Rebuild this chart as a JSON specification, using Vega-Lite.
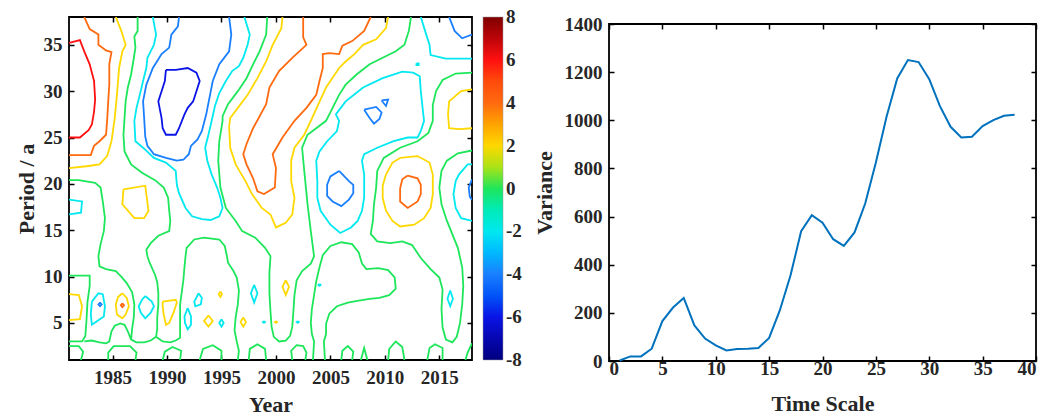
{
"$schema":"https://vega.github.io/schema/vega-lite/v6.json",
"background":"white",
"padding":{"left":14,"top":14,"right":5,"bottom":0},
"spacing":9,
"resolve":{"scale":{"color":"independent"},"legend":{"color":"independent"}},
"config":{
 "font":"Liberation Serif",
 "view":{"stroke":"#000","strokeWidth":1.8},
 "axis":{"domain":false,"grid":false,"ticks":true,"tickSize":-5,"tickColor":"#000","tickWidth":1.5,
  "labelFont":"Liberation Serif","labelFontSize":19,"labelFontWeight":"bold","labelColor":"#262626",
  "titleFont":"Liberation Serif","titleFontSize":22,"titleFontWeight":"bold","titleColor":"#262626"},
 "legend":{"labelFont":"Liberation Serif","labelFontSize":19,"labelFontWeight":"bold","labelColor":"#262626"}
},
"datasets":{
"contours":[
{"c":1,"l":6,"x":1981.0,"y":35.2},{"c":1,"l":6,"x":1982.0,"y":35.5},{"c":1,"l":6,"x":1982.4,"y":34.3},{"c":1,"l":6,"x":1982.9,"y":32.9},{"c":1,"l":6,"x":1983.3,"y":31.1},{"c":1,"l":6,"x":1983.4,"y":29.1},{"c":1,"l":6,"x":1983.3,"y":27.8},{"c":1,"l":6,"x":1983.1,"y":26.4},{"c":1,"l":6,"x":1982.8,"y":25.8},{"c":1,"l":6,"x":1982.0,"y":25.0},{"c":1,"l":6,"x":1981.0,"y":25.0},
{"c":2,"l":4,"x":1982.4,"y":38},{"c":2,"l":4,"x":1982.9,"y":36.7},{"c":2,"l":4,"x":1983.7,"y":36.1},{"c":2,"l":4,"x":1983.7,"y":35.0},{"c":2,"l":4,"x":1984.4,"y":34.4},{"c":2,"l":4,"x":1984.9,"y":34.2},{"c":2,"l":4,"x":1984.7,"y":32.9},{"c":2,"l":4,"x":1984.7,"y":30.7},{"c":2,"l":4,"x":1984.6,"y":28.9},{"c":2,"l":4,"x":1984.5,"y":26.8},{"c":2,"l":4,"x":1984.4,"y":25.3},{"c":2,"l":4,"x":1983.8,"y":24.6},{"c":2,"l":4,"x":1983.3,"y":24.1},{"c":2,"l":4,"x":1983.0,"y":23.1},{"c":2,"l":4,"x":1981.0,"y":23.1},
{"c":3,"l":2,"x":1985.3,"y":38},{"c":3,"l":2,"x":1985.8,"y":36.5},{"c":3,"l":2,"x":1986.2,"y":35.0},{"c":3,"l":2,"x":1985.9,"y":34.3},{"c":3,"l":2,"x":1985.6,"y":32.5},{"c":3,"l":2,"x":1985.4,"y":29.6},{"c":3,"l":2,"x":1985.2,"y":27.1},{"c":3,"l":2,"x":1984.9,"y":24.6},{"c":3,"l":2,"x":1984.5,"y":23.0},{"c":3,"l":2,"x":1983.8,"y":22.1},{"c":3,"l":2,"x":1982.6,"y":21.9},{"c":3,"l":2,"x":1981.0,"y":21.7},
{"c":4,"l":0,"x":1987.3,"y":38},{"c":4,"l":0,"x":1987.3,"y":36.5},{"c":4,"l":0,"x":1987.0,"y":35.9},{"c":4,"l":0,"x":1987.1,"y":34.7},{"c":4,"l":0,"x":1986.9,"y":33.2},{"c":4,"l":0,"x":1986.7,"y":31.8},{"c":4,"l":0,"x":1986.4,"y":30.4},{"c":4,"l":0,"x":1986.2,"y":28.9},{"c":4,"l":0,"x":1986.1,"y":27.1},{"c":4,"l":0,"x":1986.0,"y":25.3},{"c":4,"l":0,"x":1986.1,"y":23.5},{"c":4,"l":0,"x":1986.7,"y":22.1},{"c":4,"l":0,"x":1987.7,"y":21.2},{"c":4,"l":0,"x":1988.9,"y":20.4},{"c":4,"l":0,"x":1989.7,"y":19.6},{"c":4,"l":0,"x":1990.1,"y":18.5},{"c":4,"l":0,"x":1990.2,"y":17.1},{"c":4,"l":0,"x":1990.3,"y":16.0},{"c":4,"l":0,"x":1990.2,"y":14.9},{"c":4,"l":0,"x":1989.2,"y":14.4},{"c":4,"l":0,"x":1988.5,"y":13.6},{"c":4,"l":0,"x":1988.1,"y":12.9},{"c":4,"l":0,"x":1988.2,"y":12.2},{"c":4,"l":0,"x":1988.4,"y":11.5},{"c":4,"l":0,"x":1988.9,"y":10.2},{"c":4,"l":0,"x":1989.1,"y":9.4},{"c":4,"l":0,"x":1989.2,"y":8.3},{"c":4,"l":0,"x":1989.2,"y":7.0},{"c":4,"l":0,"x":1989.1,"y":5.6},{"c":4,"l":0,"x":1989.1,"y":4.4},{"c":4,"l":0,"x":1989.0,"y":3.5},{"c":4,"l":0,"x":1989.6,"y":3.0},{"c":4,"l":0,"x":1990.3,"y":2.9},{"c":4,"l":0,"x":1990.8,"y":3.1},{"c":4,"l":0,"x":1991.2,"y":3.4},{"c":4,"l":0,"x":1991.2,"y":4.6},{"c":4,"l":0,"x":1991.2,"y":5.8},{"c":4,"l":0,"x":1991.2,"y":7.0},{"c":4,"l":0,"x":1991.35,"y":8.3},{"c":4,"l":0,"x":1991.5,"y":9.6},{"c":4,"l":0,"x":1991.6,"y":11.0},{"c":4,"l":0,"x":1991.7,"y":12.2},{"c":4,"l":0,"x":1991.8,"y":13.1},{"c":4,"l":0,"x":1992.5,"y":14.0},{"c":4,"l":0,"x":1993.4,"y":14.2},{"c":4,"l":0,"x":1994.8,"y":14.0},{"c":4,"l":0,"x":1995.3,"y":13.3},{"c":4,"l":0,"x":1995.5,"y":12.2},{"c":4,"l":0,"x":1995.6,"y":11.5},{"c":4,"l":0,"x":1996.1,"y":10.6},{"c":4,"l":0,"x":1996.4,"y":9.9},{"c":4,"l":0,"x":1996.6,"y":8.5},{"c":4,"l":0,"x":1996.5,"y":7.0},{"c":4,"l":0,"x":1996.3,"y":5.6},{"c":4,"l":0,"x":1996.2,"y":4.2},{"c":4,"l":0,"x":1996.4,"y":3.0},{"c":4,"l":0,"x":1996.6,"y":2.0},{"c":4,"l":0,"x":1996.5,"y":1.0},
{"c":5,"l":-4,"x":1991.1,"y":38},{"c":5,"l":-4,"x":1991.0,"y":37.0},{"c":5,"l":-4,"x":1990.4,"y":36.1},{"c":5,"l":-4,"x":1990.2,"y":34.7},{"c":5,"l":-4,"x":1989.5,"y":34.0},{"c":5,"l":-4,"x":1988.7,"y":32.5},{"c":5,"l":-4,"x":1988.1,"y":30.7},{"c":5,"l":-4,"x":1987.8,"y":28.9},{"c":5,"l":-4,"x":1987.9,"y":27.1},{"c":5,"l":-4,"x":1988.0,"y":25.1},{"c":5,"l":-4,"x":1988.2,"y":24.1},{"c":5,"l":-4,"x":1988.8,"y":23.2},{"c":5,"l":-4,"x":1989.9,"y":22.8},{"c":5,"l":-4,"x":1990.9,"y":22.5},{"c":5,"l":-4,"x":1991.5,"y":22.6},{"c":5,"l":-4,"x":1992.0,"y":23.2},{"c":5,"l":-4,"x":1992.2,"y":24.1},{"c":5,"l":-4,"x":1992.8,"y":24.8},{"c":5,"l":-4,"x":1993.2,"y":25.7},{"c":5,"l":-4,"x":1993.6,"y":27.5},{"c":5,"l":-4,"x":1993.9,"y":29.3},{"c":5,"l":-4,"x":1994.2,"y":31.1},{"c":5,"l":-4,"x":1994.8,"y":32.9},{"c":5,"l":-4,"x":1995.7,"y":34.3},{"c":5,"l":-4,"x":1995.9,"y":36.1},{"c":5,"l":-4,"x":1995.7,"y":38},
{"c":6,"l":-6,"x":1989.9,"y":32.3},{"c":6,"l":-6,"x":1990.8,"y":32.3},{"c":6,"l":-6,"x":1991.9,"y":32.5},{"c":6,"l":-6,"x":1992.7,"y":32.0},{"c":6,"l":-6,"x":1993.0,"y":31.1},{"c":6,"l":-6,"x":1992.7,"y":30.0},{"c":6,"l":-6,"x":1992.4,"y":28.9},{"c":6,"l":-6,"x":1991.9,"y":28.2},{"c":6,"l":-6,"x":1991.6,"y":27.5},{"c":6,"l":-6,"x":1991.1,"y":26.0},{"c":6,"l":-6,"x":1990.8,"y":25.3},{"c":6,"l":-6,"x":1989.9,"y":25.3},{"c":6,"l":-6,"x":1989.6,"y":26.0},{"c":6,"l":-6,"x":1989.5,"y":27.1},{"c":6,"l":-6,"x":1989.2,"y":28.9},{"c":6,"l":-6,"x":1989.5,"y":30.0},{"c":6,"l":-6,"x":1989.8,"y":31.1},{"c":6,"l":-6,"x":1989.9,"y":32.3},
{"c":7,"l":-2,"x":1988.7,"y":38},{"c":7,"l":-2,"x":1988.9,"y":36.7},{"c":7,"l":-2,"x":1989.0,"y":36.1},{"c":7,"l":-2,"x":1988.8,"y":35.0},{"c":7,"l":-2,"x":1988.2,"y":33.6},{"c":7,"l":-2,"x":1988.1,"y":32.5},{"c":7,"l":-2,"x":1987.8,"y":31.1},{"c":7,"l":-2,"x":1987.5,"y":29.6},{"c":7,"l":-2,"x":1987.2,"y":28.2},{"c":7,"l":-2,"x":1987.0,"y":26.8},{"c":7,"l":-2,"x":1987.1,"y":24.6},{"c":7,"l":-2,"x":1988.0,"y":23.7},{"c":7,"l":-2,"x":1988.8,"y":22.8},{"c":7,"l":-2,"x":1989.9,"y":22.3},{"c":7,"l":-2,"x":1990.8,"y":21.4},{"c":7,"l":-2,"x":1990.9,"y":19.9},{"c":7,"l":-2,"x":1991.1,"y":19.0},{"c":7,"l":-2,"x":1991.7,"y":17.4},{"c":7,"l":-2,"x":1992.3,"y":16.5},{"c":7,"l":-2,"x":1993.2,"y":16.2},{"c":7,"l":-2,"x":1994.0,"y":16.1},{"c":7,"l":-2,"x":1994.8,"y":16.5},{"c":7,"l":-2,"x":1995.1,"y":17.4},{"c":7,"l":-2,"x":1994.9,"y":18.5},{"c":7,"l":-2,"x":1994.6,"y":19.6},{"c":7,"l":-2,"x":1994.1,"y":21.0},{"c":7,"l":-2,"x":1993.7,"y":22.5},{"c":7,"l":-2,"x":1993.5,"y":23.9},{"c":7,"l":-2,"x":1993.8,"y":25.3},{"c":7,"l":-2,"x":1994.1,"y":26.8},{"c":7,"l":-2,"x":1994.4,"y":28.4},{"c":7,"l":-2,"x":1994.8,"y":29.8},{"c":7,"l":-2,"x":1995.4,"y":31.1},{"c":7,"l":-2,"x":1996.0,"y":32.2},{"c":7,"l":-2,"x":1996.6,"y":32.7},{"c":7,"l":-2,"x":1997.0,"y":33.6},{"c":7,"l":-2,"x":1997.4,"y":35.0},{"c":7,"l":-2,"x":1997.6,"y":36.1},{"c":7,"l":-2,"x":1997.1,"y":38},
{"c":8,"l":0,"x":1999.2,"y":38},{"c":8,"l":0,"x":1999.1,"y":36.1},{"c":8,"l":0,"x":1998.5,"y":34.3},{"c":8,"l":0,"x":1997.9,"y":32.9},{"c":8,"l":0,"x":1997.3,"y":31.4},{"c":8,"l":0,"x":1996.5,"y":30.0},{"c":8,"l":0,"x":1995.6,"y":28.6},{"c":8,"l":0,"x":1995.1,"y":27.3},{"c":8,"l":0,"x":1995.1,"y":26.8},{"c":8,"l":0,"x":1994.8,"y":24.6},{"c":8,"l":0,"x":1994.7,"y":22.5},{"c":8,"l":0,"x":1994.9,"y":19.6},{"c":8,"l":0,"x":1995.4,"y":17.4},{"c":8,"l":0,"x":1996.3,"y":16.0},{"c":8,"l":0,"x":1996.9,"y":14.9},{"c":8,"l":0,"x":1998.1,"y":14.2},{"c":8,"l":0,"x":1999.0,"y":13.1},{"c":8,"l":0,"x":1999.5,"y":12.2},{"c":8,"l":0,"x":1999.4,"y":10.4},{"c":8,"l":0,"x":1999.4,"y":8.2},{"c":8,"l":0,"x":1999.5,"y":6.2},{"c":8,"l":0,"x":1999.6,"y":4.6},{"c":8,"l":0,"x":1999.8,"y":3.5},{"c":8,"l":0,"x":2000.3,"y":3.0},{"c":8,"l":0,"x":2000.9,"y":3.1},{"c":8,"l":0,"x":2001.3,"y":3.6},{"c":8,"l":0,"x":2001.5,"y":4.6},{"c":8,"l":0,"x":2001.6,"y":6.2},{"c":8,"l":0,"x":2001.7,"y":8.0},{"c":8,"l":0,"x":2001.9,"y":9.6},{"c":8,"l":0,"x":2002.4,"y":10.6},{"c":8,"l":0,"x":2003.2,"y":11.4},{"c":8,"l":0,"x":2003.5,"y":12.2},{"c":8,"l":0,"x":2003.2,"y":14.9},{"c":8,"l":0,"x":2002.9,"y":17.8},{"c":8,"l":0,"x":2002.6,"y":21.4},{"c":8,"l":0,"x":2002.4,"y":23.9},{"c":8,"l":0,"x":2002.9,"y":25.3},{"c":8,"l":0,"x":2004.6,"y":26.8},{"c":8,"l":0,"x":2005.2,"y":28.2},{"c":8,"l":0,"x":2005.8,"y":29.6},{"c":8,"l":0,"x":2006.4,"y":30.7},{"c":8,"l":0,"x":2007.4,"y":31.8},{"c":8,"l":0,"x":2008.6,"y":32.9},{"c":8,"l":0,"x":2009.8,"y":33.6},{"c":8,"l":0,"x":2011.0,"y":34.3},{"c":8,"l":0,"x":2011.8,"y":35.0},{"c":8,"l":0,"x":2012.2,"y":36.5},{"c":8,"l":0,"x":2012.4,"y":38},
{"c":9,"l":2,"x":2000.6,"y":38},{"c":9,"l":2,"x":2000.5,"y":36.8},{"c":9,"l":2,"x":1999.7,"y":35.0},{"c":9,"l":2,"x":1999.1,"y":33.2},{"c":9,"l":2,"x":1998.3,"y":31.4},{"c":9,"l":2,"x":1997.4,"y":29.6},{"c":9,"l":2,"x":1996.5,"y":28.2},{"c":9,"l":2,"x":1995.8,"y":27.1},{"c":9,"l":2,"x":1995.7,"y":26.2},{"c":9,"l":2,"x":1995.8,"y":23.9},{"c":9,"l":2,"x":1996.3,"y":22.1},{"c":9,"l":2,"x":1997.2,"y":20.3},{"c":9,"l":2,"x":1997.8,"y":18.9},{"c":9,"l":2,"x":1998.7,"y":17.4},{"c":9,"l":2,"x":1999.5,"y":16.7},{"c":9,"l":2,"x":2000.0,"y":15.3},{"c":9,"l":2,"x":2000.9,"y":15.8},{"c":9,"l":2,"x":2001.5,"y":16.7},{"c":9,"l":2,"x":2001.7,"y":18.5},{"c":9,"l":2,"x":2001.4,"y":20.3},{"c":9,"l":2,"x":2001.4,"y":22.5},{"c":9,"l":2,"x":2001.7,"y":23.9},{"c":9,"l":2,"x":2002.6,"y":25.3},{"c":9,"l":2,"x":2003.2,"y":26.8},{"c":9,"l":2,"x":2004.6,"y":30.4},{"c":9,"l":2,"x":2005.8,"y":32.5},{"c":9,"l":2,"x":2006.4,"y":33.2},{"c":9,"l":2,"x":2007.2,"y":34.0},{"c":9,"l":2,"x":2008.0,"y":35.0},{"c":9,"l":2,"x":2009.2,"y":35.6},{"c":9,"l":2,"x":2010.1,"y":36.8},{"c":9,"l":2,"x":2010.3,"y":38},
{"c":10,"l":4,"x":2002.5,"y":38},{"c":10,"l":4,"x":2002.5,"y":35.8},{"c":10,"l":4,"x":2002.8,"y":35.0},{"c":10,"l":4,"x":2001.5,"y":33.6},{"c":10,"l":4,"x":2000.3,"y":32.2},{"c":10,"l":4,"x":1999.4,"y":30.4},{"c":10,"l":4,"x":1999.1,"y":28.6},{"c":10,"l":4,"x":1997.9,"y":26.0},{"c":10,"l":4,"x":1997.3,"y":24.3},{"c":10,"l":4,"x":1997.0,"y":23.2},{"c":10,"l":4,"x":1997.3,"y":22.1},{"c":10,"l":4,"x":1997.9,"y":20.6},{"c":10,"l":4,"x":1998.3,"y":19.2},{"c":10,"l":4,"x":1998.9,"y":18.9},{"c":10,"l":4,"x":1999.9,"y":19.6},{"c":10,"l":4,"x":2000.0,"y":21.7},{"c":10,"l":4,"x":1999.7,"y":23.2},{"c":10,"l":4,"x":2000.6,"y":25.0},{"c":10,"l":4,"x":2001.7,"y":26.8},{"c":10,"l":4,"x":2002.8,"y":28.2},{"c":10,"l":4,"x":2003.7,"y":29.6},{"c":10,"l":4,"x":2004.0,"y":31.1},{"c":10,"l":4,"x":2004.3,"y":32.5},{"c":10,"l":4,"x":2004.3,"y":34.0},{"c":10,"l":4,"x":2004.9,"y":34.1},{"c":10,"l":4,"x":2005.8,"y":34.0},{"c":10,"l":4,"x":2006.1,"y":34.9},{"c":10,"l":4,"x":2007.0,"y":35.4},{"c":10,"l":4,"x":2008.1,"y":36.5},{"c":10,"l":4,"x":2008.7,"y":38},
{"c":12,"l":-2,"x":2012.6,"y":32.0},{"c":12,"l":-2,"x":2013.2,"y":31.6},{"c":12,"l":-2,"x":2013.3,"y":30.0},{"c":12,"l":-2,"x":2013.5,"y":27.8},{"c":12,"l":-2,"x":2013.6,"y":26.8},{"c":12,"l":-2,"x":2013.3,"y":25.7},{"c":12,"l":-2,"x":2013.0,"y":25.0},{"c":12,"l":-2,"x":2012.1,"y":25.0},{"c":12,"l":-2,"x":2010.8,"y":24.6},{"c":12,"l":-2,"x":2009.3,"y":23.9},{"c":12,"l":-2,"x":2008.1,"y":23.2},{"c":12,"l":-2,"x":2007.9,"y":22.5},{"c":12,"l":-2,"x":2008.1,"y":21.0},{"c":12,"l":-2,"x":2008.1,"y":19.9},{"c":12,"l":-2,"x":2008.1,"y":18.5},{"c":12,"l":-2,"x":2007.9,"y":17.1},{"c":12,"l":-2,"x":2007.5,"y":16.0},{"c":12,"l":-2,"x":2006.9,"y":15.3},{"c":12,"l":-2,"x":2005.9,"y":14.7},{"c":12,"l":-2,"x":2005.0,"y":15.6},{"c":12,"l":-2,"x":2004.1,"y":17.1},{"c":12,"l":-2,"x":2003.8,"y":18.5},{"c":12,"l":-2,"x":2003.8,"y":20.3},{"c":12,"l":-2,"x":2003.7,"y":22.5},{"c":12,"l":-2,"x":2004.0,"y":23.5},{"c":12,"l":-2,"x":2004.7,"y":24.6},{"c":12,"l":-2,"x":2005.6,"y":25.7},{"c":12,"l":-2,"x":2005.8,"y":26.8},{"c":12,"l":-2,"x":2005.5,"y":27.5},{"c":12,"l":-2,"x":2006.4,"y":28.9},{"c":12,"l":-2,"x":2008.0,"y":30.4},{"c":12,"l":-2,"x":2009.8,"y":31.4},{"c":12,"l":-2,"x":2011.6,"y":32.1},{"c":12,"l":-2,"x":2012.6,"y":32.0},
{"c":13,"l":-4,"x":2005.8,"y":21.4},{"c":13,"l":-4,"x":2006.7,"y":20.3},{"c":13,"l":-4,"x":2007.1,"y":19.9},{"c":13,"l":-4,"x":2007.1,"y":19.0},{"c":13,"l":-4,"x":2006.7,"y":18.3},{"c":13,"l":-4,"x":2006.0,"y":17.6},{"c":13,"l":-4,"x":2005.2,"y":18.1},{"c":13,"l":-4,"x":2004.7,"y":18.7},{"c":13,"l":-4,"x":2004.7,"y":19.9},{"c":13,"l":-4,"x":2005.0,"y":20.8},{"c":13,"l":-4,"x":2005.8,"y":21.4},
{"c":14,"l":2,"x":2011.4,"y":22.8},{"c":14,"l":2,"x":2013.0,"y":23.0},{"c":14,"l":2,"x":2014.1,"y":22.3},{"c":14,"l":2,"x":2014.4,"y":21.0},{"c":14,"l":2,"x":2014.4,"y":18.9},{"c":14,"l":2,"x":2014.2,"y":17.4},{"c":14,"l":2,"x":2013.6,"y":16.3},{"c":14,"l":2,"x":2012.7,"y":15.6},{"c":14,"l":2,"x":2011.4,"y":15.4},{"c":14,"l":2,"x":2010.7,"y":16.0},{"c":14,"l":2,"x":2010.1,"y":17.1},{"c":14,"l":2,"x":2009.8,"y":18.5},{"c":14,"l":2,"x":2009.8,"y":19.8},{"c":14,"l":2,"x":2010.1,"y":21.0},{"c":14,"l":2,"x":2010.7,"y":22.3},{"c":14,"l":2,"x":2011.4,"y":22.8},
{"c":15,"l":4,"x":2012.1,"y":20.9},{"c":15,"l":4,"x":2013.0,"y":20.6},{"c":15,"l":4,"x":2013.3,"y":19.9},{"c":15,"l":4,"x":2013.3,"y":18.9},{"c":15,"l":4,"x":2013.0,"y":18.1},{"c":15,"l":4,"x":2012.1,"y":17.4},{"c":15,"l":4,"x":2011.4,"y":18.1},{"c":15,"l":4,"x":2011.4,"y":19.5},{"c":15,"l":4,"x":2011.6,"y":20.5},{"c":15,"l":4,"x":2012.1,"y":20.9},
{"c":16,"l":-2,"x":2013.3,"y":38},{"c":16,"l":-2,"x":2013.8,"y":36.1},{"c":16,"l":-2,"x":2014.1,"y":35.0},{"c":16,"l":-2,"x":2014.2,"y":33.9},{"c":16,"l":-2,"x":2015.6,"y":33.5},{"c":16,"l":-2,"x":2018,"y":33.5},
{"c":17,"l":-4,"x":2015.9,"y":38},{"c":17,"l":-4,"x":2016.4,"y":36.5},{"c":17,"l":-4,"x":2017.1,"y":35.7},{"c":17,"l":-4,"x":2018,"y":36.1},
{"c":18,"l":-2,"x":2012.9,"y":33.0},{"c":18,"l":-2,"x":2013.1,"y":33.0},{"c":18,"l":-2,"x":2013.1,"y":32.8},{"c":18,"l":-2,"x":2012.9,"y":32.8},{"c":18,"l":-2,"x":2012.9,"y":33.0},
{"c":19,"l":2,"x":2018,"y":30.2},{"c":19,"l":2,"x":2017.0,"y":30.0},{"c":19,"l":2,"x":2015.9,"y":28.9},{"c":19,"l":2,"x":2015.8,"y":27.5},{"c":19,"l":2,"x":2015.9,"y":26.0},{"c":19,"l":2,"x":2016.8,"y":25.9},{"c":19,"l":2,"x":2018,"y":26.0},
{"c":20,"l":0,"x":1981.0,"y":20.4},{"c":20,"l":0,"x":1981.9,"y":20.4},{"c":20,"l":0,"x":1983.4,"y":20.1},{"c":20,"l":0,"x":1983.9,"y":19.6},{"c":20,"l":0,"x":1984.1,"y":18.1},{"c":20,"l":0,"x":1984.3,"y":16.3},{"c":20,"l":0,"x":1984.2,"y":14.9},{"c":20,"l":0,"x":1983.9,"y":13.5},{"c":20,"l":0,"x":1983.7,"y":12.2},{"c":20,"l":0,"x":1983.8,"y":11.1},{"c":20,"l":0,"x":1984.4,"y":10.8},{"c":20,"l":0,"x":1985.3,"y":10.6},{"c":20,"l":0,"x":1985.8,"y":10.0},{"c":20,"l":0,"x":1986.3,"y":9.3},{"c":20,"l":0,"x":1986.8,"y":8.3},{"c":20,"l":0,"x":1987.0,"y":7.0},{"c":20,"l":0,"x":1986.95,"y":5.6},{"c":20,"l":0,"x":1986.8,"y":4.4},{"c":20,"l":0,"x":1986.7,"y":3.2},{"c":20,"l":0,"x":1986.4,"y":4.1},{"c":20,"l":0,"x":1986.1,"y":4.8},{"c":20,"l":0,"x":1985.7,"y":4.95},{"c":20,"l":0,"x":1985.2,"y":4.7},{"c":20,"l":0,"x":1984.9,"y":4.1},{"c":20,"l":0,"x":1984.7,"y":3.0},{"c":20,"l":0,"x":1984.4,"y":2.8},{"c":20,"l":0,"x":1983.8,"y":2.9},{"c":20,"l":0,"x":1983.1,"y":3.1},{"c":20,"l":0,"x":1982.4,"y":3.0},
{"c":47,"l":0,"x":1986.7,"y":3.2},{"c":47,"l":0,"x":1987.2,"y":2.9},{"c":47,"l":0,"x":1987.9,"y":2.9},{"c":47,"l":0,"x":1988.5,"y":3.1},{"c":47,"l":0,"x":1989.0,"y":3.5},
{"c":21,"l":-2,"x":1981.0,"y":18.3},{"c":21,"l":-2,"x":1982.2,"y":18.1},{"c":21,"l":-2,"x":1982.1,"y":16.9},{"c":21,"l":-2,"x":1981.0,"y":16.7},
{"c":22,"l":2,"x":1986.0,"y":19.4},{"c":22,"l":2,"x":1988.0,"y":19.8},{"c":22,"l":2,"x":1988.3,"y":17.1},{"c":22,"l":2,"x":1987.9,"y":16.3},{"c":22,"l":2,"x":1987.0,"y":16.3},{"c":22,"l":2,"x":1985.9,"y":17.8},{"c":22,"l":2,"x":1986.0,"y":19.4},
{"c":23,"l":2,"x":1981.0,"y":8.1},{"c":23,"l":2,"x":1981.9,"y":8.0},{"c":23,"l":2,"x":1982.2,"y":6.8},{"c":23,"l":2,"x":1982.0,"y":5.4},{"c":23,"l":2,"x":1981.0,"y":5.3},
{"c":24,"l":-4,"x":2008.1,"y":28.0},{"c":24,"l":-4,"x":2009.2,"y":28.3},{"c":24,"l":-4,"x":2009.7,"y":27.7},{"c":24,"l":-4,"x":2009.5,"y":27.0},{"c":24,"l":-4,"x":2009.0,"y":26.5},{"c":24,"l":-4,"x":2008.6,"y":27.1},{"c":24,"l":-4,"x":2008.1,"y":28.0},
{"c":25,"l":-4,"x":2009.7,"y":29.0},{"c":25,"l":-4,"x":2010.3,"y":29.1},{"c":25,"l":-4,"x":2010.1,"y":28.4},{"c":25,"l":-4,"x":2009.7,"y":29.0},
{"c":26,"l":-2,"x":1983.1,"y":7.3},{"c":26,"l":-2,"x":1983.7,"y":8.2},{"c":26,"l":-2,"x":1984.1,"y":8.1},{"c":26,"l":-2,"x":1984.3,"y":6.8},{"c":26,"l":-2,"x":1984.2,"y":5.7},{"c":26,"l":-2,"x":1983.6,"y":5.2},{"c":26,"l":-2,"x":1983.1,"y":4.8},{"c":26,"l":-2,"x":1983.0,"y":5.9},{"c":26,"l":-2,"x":1983.1,"y":7.3},
{"c":27,"l":-4,"x":1983.85,"y":7.2},{"c":27,"l":-4,"x":1984.0,"y":7.0},{"c":27,"l":-4,"x":1983.85,"y":6.8},{"c":27,"l":-4,"x":1983.7,"y":7.0},{"c":27,"l":-4,"x":1983.85,"y":7.2},
{"c":28,"l":2,"x":1985.9,"y":8.2},{"c":28,"l":2,"x":1986.3,"y":7.7},{"c":28,"l":2,"x":1986.5,"y":6.8},{"c":28,"l":2,"x":1986.2,"y":5.9},{"c":28,"l":2,"x":1985.9,"y":5.5},{"c":28,"l":2,"x":1985.4,"y":5.9},{"c":28,"l":2,"x":1985.3,"y":7.0},{"c":28,"l":2,"x":1985.5,"y":7.8},{"c":28,"l":2,"x":1985.9,"y":8.2},
{"c":29,"l":4,"x":1985.9,"y":7.1},{"c":29,"l":4,"x":1986.05,"y":6.9},{"c":29,"l":4,"x":1985.9,"y":6.7},{"c":29,"l":4,"x":1985.75,"y":6.9},{"c":29,"l":4,"x":1985.9,"y":7.1},
{"c":30,"l":-2,"x":1988.0,"y":7.9},{"c":30,"l":-2,"x":1988.6,"y":7.3},{"c":30,"l":-2,"x":1988.8,"y":6.8},{"c":30,"l":-2,"x":1988.5,"y":6.1},{"c":30,"l":-2,"x":1988.0,"y":5.5},{"c":30,"l":-2,"x":1987.6,"y":6.1},{"c":30,"l":-2,"x":1987.4,"y":6.8},{"c":30,"l":-2,"x":1987.7,"y":7.5},{"c":30,"l":-2,"x":1988.0,"y":7.9},
{"c":31,"l":2,"x":1989.6,"y":7.3},{"c":31,"l":2,"x":1990.8,"y":7.5},{"c":31,"l":2,"x":1990.9,"y":7.2},{"c":31,"l":2,"x":1990.6,"y":6.1},{"c":31,"l":2,"x":1990.2,"y":5.0},{"c":31,"l":2,"x":1989.9,"y":4.8},{"c":31,"l":2,"x":1989.7,"y":5.9},{"c":31,"l":2,"x":1989.6,"y":6.8},{"c":31,"l":2,"x":1989.6,"y":7.3},
{"c":32,"l":-2,"x":1992.9,"y":8.2},{"c":32,"l":-2,"x":1993.2,"y":7.7},{"c":32,"l":-2,"x":1993.1,"y":7.0},{"c":32,"l":-2,"x":1992.6,"y":6.8},{"c":32,"l":-2,"x":1992.5,"y":7.3},{"c":32,"l":-2,"x":1992.9,"y":8.2},
{"c":33,"l":-2,"x":1991.9,"y":6.6},{"c":33,"l":-2,"x":1992.2,"y":5.7},{"c":33,"l":-2,"x":1992.2,"y":4.8},{"c":33,"l":-2,"x":1991.9,"y":4.3},{"c":33,"l":-2,"x":1991.65,"y":5.0},{"c":33,"l":-2,"x":1991.6,"y":5.7},{"c":33,"l":-2,"x":1991.9,"y":6.6},
{"c":34,"l":2,"x":1994.9,"y":8.4},{"c":34,"l":2,"x":1995.05,"y":8.1},{"c":34,"l":2,"x":1994.9,"y":7.8},{"c":34,"l":2,"x":1994.75,"y":8.1},{"c":34,"l":2,"x":1994.9,"y":8.4},
{"c":35,"l":2,"x":1993.8,"y":5.8},{"c":35,"l":2,"x":1994.2,"y":5.2},{"c":35,"l":2,"x":1993.8,"y":4.6},{"c":35,"l":2,"x":1993.4,"y":5.2},{"c":35,"l":2,"x":1993.8,"y":5.8},
{"c":36,"l":-2,"x":1995.0,"y":5.4},{"c":36,"l":-2,"x":1995.2,"y":5.0},{"c":36,"l":-2,"x":1995.0,"y":4.6},{"c":36,"l":-2,"x":1994.8,"y":5.0},{"c":36,"l":-2,"x":1995.0,"y":5.4},
{"c":37,"l":2,"x":1997.0,"y":5.6},{"c":37,"l":2,"x":1997.25,"y":5.1},{"c":37,"l":2,"x":1997.0,"y":4.6},{"c":37,"l":2,"x":1996.75,"y":5.1},{"c":37,"l":2,"x":1997.0,"y":5.6},
{"c":38,"l":-2,"x":1998.0,"y":9.1},{"c":38,"l":-2,"x":1998.3,"y":8.2},{"c":38,"l":-2,"x":1998.0,"y":7.2},{"c":38,"l":-2,"x":1997.7,"y":8.2},{"c":38,"l":-2,"x":1998.0,"y":9.1},
{"c":39,"l":-2,"x":1998.9,"y":5.2},{"c":39,"l":-2,"x":1999.0,"y":5.1},{"c":39,"l":-2,"x":1998.9,"y":5.0},{"c":39,"l":-2,"x":1998.8,"y":5.1},{"c":39,"l":-2,"x":1998.9,"y":5.2},
{"c":40,"l":2,"x":2000.9,"y":9.6},{"c":40,"l":2,"x":2001.2,"y":8.9},{"c":40,"l":2,"x":2000.9,"y":8.0},{"c":40,"l":2,"x":2000.6,"y":8.9},{"c":40,"l":2,"x":2000.9,"y":9.6},
{"c":41,"l":2,"x":2000.0,"y":5.2},{"c":41,"l":2,"x":2000.1,"y":5.1},{"c":41,"l":2,"x":2000.0,"y":5.0},{"c":41,"l":2,"x":1999.9,"y":5.1},{"c":41,"l":2,"x":2000.0,"y":5.2},
{"c":42,"l":-2,"x":2002.0,"y":5.2},{"c":42,"l":-2,"x":2002.1,"y":5.1},{"c":42,"l":-2,"x":2002.0,"y":5.0},{"c":42,"l":-2,"x":2001.9,"y":5.1},{"c":42,"l":-2,"x":2002.0,"y":5.2},
{"c":43,"l":-2,"x":2004.0,"y":9.2},{"c":43,"l":-2,"x":2004.1,"y":9.1},{"c":43,"l":-2,"x":2004.0,"y":9.0},{"c":43,"l":-2,"x":2003.9,"y":9.1},{"c":43,"l":-2,"x":2004.0,"y":9.2},
{"c":44,"l":-2,"x":2016.0,"y":8.5},{"c":44,"l":-2,"x":2016.25,"y":7.6},{"c":44,"l":-2,"x":2016.0,"y":6.8},{"c":44,"l":-2,"x":2015.75,"y":7.6},{"c":44,"l":-2,"x":2016.0,"y":8.5},
{"c":45,"l":0,"x":1981.0,"y":10.1},{"c":45,"l":0,"x":1982.9,"y":10.1},{"c":45,"l":0,"x":1982.9,"y":9.0},{"c":45,"l":0,"x":1982.7,"y":7.3},{"c":45,"l":0,"x":1982.6,"y":5.2},{"c":45,"l":0,"x":1982.5,"y":3.6},{"c":45,"l":0,"x":1982.2,"y":3.0},{"c":45,"l":0,"x":1981.0,"y":3.0},
{"c":53,"l":0,"x":2004.5,"y":1.0},{"c":53,"l":0,"x":2004.4,"y":3.0},{"c":53,"l":0,"x":2004.6,"y":3.8},{"c":53,"l":0,"x":2004.6,"y":4.9},{"c":53,"l":0,"x":2004.9,"y":6.0},{"c":53,"l":0,"x":2005.6,"y":6.8},{"c":53,"l":0,"x":2006.6,"y":7.2},{"c":53,"l":0,"x":2007.6,"y":7.4},{"c":53,"l":0,"x":2008.6,"y":7.6},{"c":53,"l":0,"x":2009.5,"y":7.7},{"c":53,"l":0,"x":2010.4,"y":8.0},{"c":53,"l":0,"x":2011.0,"y":8.7},{"c":53,"l":0,"x":2010.9,"y":9.9},{"c":53,"l":0,"x":2010.3,"y":10.7},{"c":53,"l":0,"x":2009.4,"y":10.9},{"c":53,"l":0,"x":2008.3,"y":10.8},{"c":53,"l":0,"x":2007.9,"y":11.4},{"c":53,"l":0,"x":2007.6,"y":12.6},{"c":53,"l":0,"x":2007.0,"y":13.5},{"c":53,"l":0,"x":2006.0,"y":13.7},{"c":53,"l":0,"x":2005.0,"y":13.3},{"c":53,"l":0,"x":2004.3,"y":12.3},{"c":53,"l":0,"x":2004.0,"y":11.0},{"c":53,"l":0,"x":2003.7,"y":9.5},{"c":53,"l":0,"x":2003.5,"y":8.0},{"c":53,"l":0,"x":2003.3,"y":6.5},{"c":53,"l":0,"x":2003.2,"y":5.0},{"c":53,"l":0,"x":2003.3,"y":3.8},{"c":53,"l":0,"x":2003.5,"y":3.0},{"c":53,"l":0,"x":2003.4,"y":1.0},
{"c":56,"l":0,"x":2018,"y":32.0},{"c":56,"l":0,"x":2016.5,"y":31.9},{"c":56,"l":0,"x":2015.3,"y":31.2},{"c":56,"l":0,"x":2014.7,"y":30.0},{"c":56,"l":0,"x":2014.4,"y":28.5},{"c":56,"l":0,"x":2014.4,"y":26.8},{"c":56,"l":0,"x":2014.0,"y":25.5},{"c":56,"l":0,"x":2013.0,"y":24.6},{"c":56,"l":0,"x":2011.4,"y":23.9},{"c":56,"l":0,"x":2009.9,"y":22.8},{"c":56,"l":0,"x":2009.3,"y":21.4},{"c":56,"l":0,"x":2009.2,"y":19.6},{"c":56,"l":0,"x":2009.0,"y":17.8},{"c":56,"l":0,"x":2008.9,"y":16.0},{"c":56,"l":0,"x":2008.7,"y":14.6},{"c":56,"l":0,"x":2009.3,"y":13.8},{"c":56,"l":0,"x":2010.5,"y":13.6},{"c":56,"l":0,"x":2011.6,"y":13.8},{"c":56,"l":0,"x":2012.5,"y":13.4},{"c":56,"l":0,"x":2013.3,"y":12.0},{"c":56,"l":0,"x":2014.2,"y":10.8},{"c":56,"l":0,"x":2015.0,"y":9.9},{"c":56,"l":0,"x":2015.3,"y":8.6},{"c":56,"l":0,"x":2015.2,"y":6.5},{"c":56,"l":0,"x":2015.3,"y":4.5},{"c":56,"l":0,"x":2015.6,"y":3.2},{"c":56,"l":0,"x":2016.2,"y":2.9},{"c":56,"l":0,"x":2016.6,"y":3.5},{"c":56,"l":0,"x":2016.9,"y":5.0},{"c":56,"l":0,"x":2017.1,"y":7.0},{"c":56,"l":0,"x":2017.2,"y":9.0},{"c":56,"l":0,"x":2017.1,"y":11.0},{"c":56,"l":0,"x":2016.7,"y":13.1},{"c":56,"l":0,"x":2015.7,"y":16.0},{"c":56,"l":0,"x":2015.2,"y":17.8},{"c":56,"l":0,"x":2015.0,"y":19.6},{"c":56,"l":0,"x":2015.2,"y":21.4},{"c":56,"l":0,"x":2015.7,"y":22.5},{"c":56,"l":0,"x":2016.7,"y":23.3},{"c":56,"l":0,"x":2018,"y":23.6},
{"c":57,"l":0,"x":1981.0,"y":2.5},{"c":57,"l":0,"x":1981.9,"y":2.5},{"c":57,"l":0,"x":1982.3,"y":1.9},{"c":57,"l":0,"x":1982.1,"y":1.0},
{"c":58,"l":0,"x":1984.6,"y":1.0},{"c":58,"l":0,"x":1984.6,"y":1.8},{"c":58,"l":0,"x":1985.1,"y":2.5},{"c":58,"l":0,"x":1986.6,"y":2.5},{"c":58,"l":0,"x":1987.2,"y":1.8},{"c":58,"l":0,"x":1987.1,"y":1.0},
{"c":59,"l":0,"x":1989.6,"y":1.0},{"c":59,"l":0,"x":1989.8,"y":1.9},{"c":59,"l":0,"x":1990.5,"y":2.4},{"c":59,"l":0,"x":1991.3,"y":2.0},{"c":59,"l":0,"x":1991.2,"y":1.0},
{"c":60,"l":0,"x":1993.0,"y":1.0},{"c":60,"l":0,"x":1993.3,"y":2.2},{"c":60,"l":0,"x":1994.2,"y":2.6},{"c":60,"l":0,"x":1995.0,"y":2.0},{"c":60,"l":0,"x":1995.0,"y":1.0},
{"c":61,"l":0,"x":1997.5,"y":1.0},{"c":61,"l":0,"x":1997.6,"y":2.2},{"c":61,"l":0,"x":1998.3,"y":2.7},{"c":61,"l":0,"x":1999.0,"y":2.2},{"c":61,"l":0,"x":1999.1,"y":1.0},
{"c":62,"l":0,"x":2001.5,"y":1.0},{"c":62,"l":0,"x":2001.4,"y":2.0},{"c":62,"l":0,"x":2001.9,"y":2.6},{"c":62,"l":0,"x":2002.5,"y":2.5},{"c":62,"l":0,"x":2002.8,"y":1.8},{"c":62,"l":0,"x":2002.7,"y":1.0},
{"c":63,"l":0,"x":2007.8,"y":1.0},{"c":63,"l":0,"x":2008.1,"y":2.3},{"c":63,"l":0,"x":2008.4,"y":1.0},
{"c":64,"l":0,"x":2013.9,"y":1.0},{"c":64,"l":0,"x":2014.1,"y":2.3},{"c":64,"l":0,"x":2014.6,"y":2.7},{"c":64,"l":0,"x":2015.3,"y":2.3},{"c":64,"l":0,"x":2015.3,"y":1.0},
{"c":65,"l":0,"x":2017.4,"y":1.0},{"c":65,"l":0,"x":2017.6,"y":1.8},{"c":65,"l":0,"x":2018,"y":2.8},
{"c":66,"l":0,"x":2006.0,"y":1.0},{"c":66,"l":0,"x":2006.1,"y":2.0},{"c":66,"l":0,"x":2006.6,"y":2.5},{"c":66,"l":0,"x":2007.1,"y":1.9},{"c":66,"l":0,"x":2007.0,"y":1.0},
{"c":67,"l":0,"x":2010.3,"y":1.0},{"c":67,"l":0,"x":2010.4,"y":2.2},{"c":67,"l":0,"x":2011.0,"y":3.0},{"c":67,"l":0,"x":2011.6,"y":2.4},{"c":67,"l":0,"x":2011.8,"y":1.0},
{"c":68,"l":-2,"x":2018,"y":16.0},{"c":68,"l":-2,"x":2017.0,"y":16.3},{"c":68,"l":-2,"x":2016.5,"y":17.4},{"c":68,"l":-2,"x":2016.3,"y":18.9},{"c":68,"l":-2,"x":2016.5,"y":20.3},{"c":68,"l":-2,"x":2016.8,"y":21.0},{"c":68,"l":-2,"x":2017.6,"y":22.1},{"c":68,"l":-2,"x":2018,"y":22.1},
{"c":69,"l":-4,"x":2018,"y":20.5},{"c":69,"l":-4,"x":2017.7,"y":19.6},{"c":69,"l":-4,"x":2017.8,"y":18.6},{"c":69,"l":-4,"x":2018,"y":18.3}
],
"variance":[
{"t":1,"v":2},{"t":2,"v":19},{"t":3,"v":19},{"t":4,"v":51},{"t":5,"v":166},{"t":6,"v":222},{"t":7,"v":262},{"t":8,"v":148},{"t":9,"v":93},{"t":10,"v":65},
{"t":11,"v":44},{"t":12,"v":50},{"t":13,"v":51},{"t":14,"v":54},{"t":15,"v":96},{"t":16,"v":210},{"t":17,"v":355},{"t":18,"v":539},{"t":19,"v":606},{"t":20,"v":575},
{"t":21,"v":506},{"t":22,"v":478},{"t":23,"v":534},{"t":24,"v":654},{"t":25,"v":825},{"t":26,"v":1015},{"t":27,"v":1174},{"t":28,"v":1250},{"t":29,"v":1242},{"t":30,"v":1171},
{"t":31,"v":1059},{"t":32,"v":973},{"t":33,"v":929},{"t":34,"v":932},{"t":35,"v":976},{"t":36,"v":1001},{"t":37,"v":1019},{"t":38,"v":1023}
]
},
"hconcat":[
{
 "width":403,"height":343,
 "data":{"name":"contours"},
 "layer":[
  {
   "mark":{"type":"line","strokeWidth":1.8,"clip":true},
   "encoding":{
    "x":{"field":"x","type":"quantitative","scale":{"domain":[1981,2018],"nice":false,"zero":false},
         "axis":{"orient":"bottom","values":[1985,1990,1995,2000,2005,2010,2015],"format":"d","labelPadding":13,"title":"Year","titlePadding":7}},
    "y":{"field":"y","type":"quantitative","scale":{"domain":[1,38],"nice":false,"zero":false},
         "axis":{"orient":"left","values":[5,10,15,20,25,30,35],"labelPadding":12,"title":"Period / a","titlePadding":5}},
    "color":{"field":"l","type":"quantitative",
      "scale":{"domain":[-8.01,-6,-4,-2,0,2,4,6,8.01],"range":["#00007f","#0a14e6","#1a7fff","#00e8f0","#1ee65a","#ffd800","#ff6a10","#ff1010","#7f0000"]},
      "legend":{"title":null,"direction":"vertical","orient":"right","gradientLength":343,"gradientThickness":20,"offset":10,"padding":0,"values":[8,6,4,2,0,-2,-4,-6,-8],"labelExpr":"'' + datum.value","labelOffset":3,"gradientStrokeColor":"#999","gradientStrokeWidth":0.5}},
    "detail":{"field":"c","type":"nominal"},
    "order":{"value":null}
   }
  },
  {
   "mark":{"type":"line","opacity":0},
   "encoding":{
    "x":{"field":"x","type":"quantitative","axis":{"orient":"top","values":[1985,1990,1995,2000,2005,2010,2015],"labels":false,"title":null}},
    "y":{"field":"y","type":"quantitative","axis":{"orient":"right","values":[5,10,15,20,25,30,35],"labels":false,"title":null}},
    "detail":{"field":"c","type":"nominal"},
    "order":{"value":null}
   }
  }
 ],
 "resolve":{"axis":{"x":"independent","y":"independent"}}
},
{
 "spacing":-7,
 "vconcat":[
  {
   "width":427,"height":1,
   "view":{"stroke":null},
   "data":{"values":[{}]},
   "mark":{"type":"point","opacity":0},
   "encoding":{}
  },
  {
   "width":427,"height":337,
   "data":{"name":"variance"},
   "layer":[
    {
     "mark":{"type":"line","color":"#0072bd","strokeWidth":2},
     "encoding":{
      "x":{"field":"t","type":"quantitative","scale":{"domain":[0,40],"nice":false},
           "axis":{"orient":"bottom","values":[0,5,10,15,20,25,30,35,40],"labelPadding":3,"title":"Time Scale","titlePadding":15}},
      "y":{"field":"v","type":"quantitative","scale":{"domain":[0,1400],"nice":false},
           "axis":{"orient":"left","values":[0,200,400,600,800,1000,1200,1400],"format":"d","labelPadding":12,"title":"Variance","titlePadding":8}}
     }
    },
    {
     "mark":{"type":"line","opacity":0},
     "encoding":{
      "x":{"field":"t","type":"quantitative","axis":{"orient":"top","values":[0,5,10,15,20,25,30,35,40],"labels":false,"title":null}},
      "y":{"field":"v","type":"quantitative","axis":{"orient":"right","values":[0,200,400,600,800,1000,1200,1400],"labels":false,"title":null}}
     }
    }
   ],
   "resolve":{"axis":{"x":"independent","y":"independent"}}
  }
 ]
}
]
}
